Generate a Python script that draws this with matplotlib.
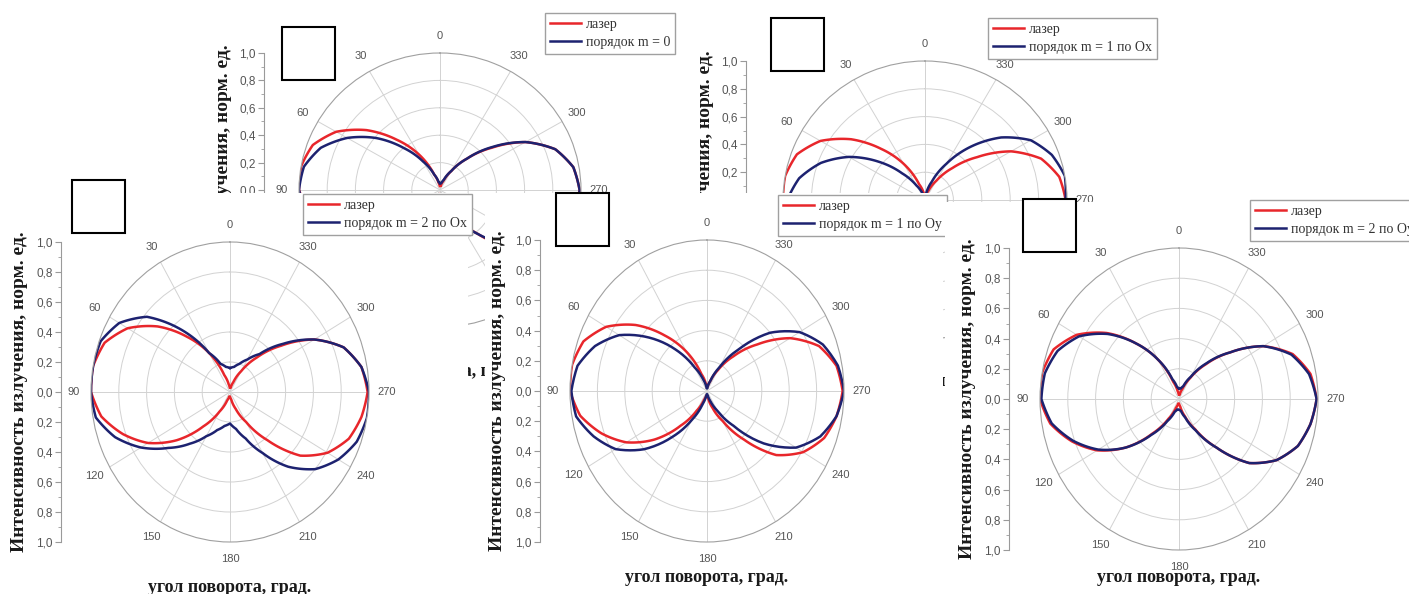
import numpy as np
import matplotlib.pyplot as plt
from matplotlib.patches import Rectangle
from matplotlib.transforms import Bbox, TransformedBbox
from matplotlib.ticker import MultipleLocator, FixedLocator, FuncFormatter

W, H = 1409, 594

# rotation angle, degrees (step 10)
angles = list(range(0, 360, 10))

# normalized intensity of the laser beam (same reference in every panel)
laser = [0.03, 0.05, 0.12, 0.30, 0.48, 0.68, 0.85, 0.96, 1.00, 1.00,
         0.94, 0.82, 0.68, 0.50, 0.30, 0.15, 0.06, 0.03,
         0.03, 0.05, 0.12, 0.23, 0.42, 0.66, 0.81, 0.91, 0.96, 0.99,
         0.96, 0.87, 0.70, 0.48, 0.30, 0.16, 0.07, 0.03]

order_m0 = [0.05, 0.06, 0.12, 0.24, 0.40, 0.59, 0.76, 0.90, 0.98, 1.00,
            0.96, 0.86, 0.72, 0.54, 0.36, 0.20, 0.09, 0.05,
            0.05, 0.06, 0.13, 0.25, 0.42, 0.62, 0.79, 0.91, 0.98, 0.99,
            0.96, 0.87, 0.70, 0.49, 0.30, 0.16, 0.08, 0.05]

order_m1_ox = [0.03, 0.03, 0.05, 0.12, 0.25, 0.43, 0.62, 0.78, 0.90, 0.97,
               0.99, 0.95, 0.85, 0.70, 0.52, 0.34, 0.18, 0.07,
               0.03, 0.03, 0.06, 0.14, 0.28, 0.46, 0.64, 0.80, 0.92, 0.99,
               1.00, 0.95, 0.86, 0.70, 0.50, 0.30, 0.14, 0.05]

order_m2_ox = [0.16, 0.17, 0.20, 0.30, 0.54, 0.78, 0.92, 0.99, 1.00, 1.00,
               0.98, 0.88, 0.74, 0.58, 0.45, 0.34, 0.27, 0.23,
               0.21, 0.25, 0.33, 0.47, 0.65, 0.80, 0.90, 0.97, 1.00, 1.00,
               0.96, 0.87, 0.70, 0.50, 0.33, 0.25, 0.20, 0.17]

order_m1_oy = [0.02, 0.03, 0.08, 0.18, 0.36, 0.55, 0.74, 0.87, 0.96, 0.99,
               0.97, 0.88, 0.77, 0.60, 0.40, 0.22, 0.09, 0.03,
               0.02, 0.03, 0.07, 0.15, 0.30, 0.54, 0.75, 0.88, 0.96, 1.00,
               0.97, 0.90, 0.78, 0.60, 0.36, 0.18, 0.07, 0.03]

order_m2_oy = [0.07, 0.08, 0.14, 0.30, 0.48, 0.67, 0.83, 0.93, 0.98, 0.99,
               0.93, 0.81, 0.67, 0.50, 0.31, 0.17, 0.09, 0.07,
               0.07, 0.08, 0.13, 0.24, 0.42, 0.66, 0.81, 0.91, 0.96, 0.99,
               0.95, 0.86, 0.70, 0.48, 0.31, 0.17, 0.09, 0.07]

labels = ["порядок m = 0", "порядок m = 1 по Ox", "порядок m = 2 по Ox",
          "порядок m = 1 по Oy", "порядок m = 2 по Oy"]

RED = "#e8262b"
BLUE = "#1d2270"
SERIF = "Liberation Serif"
SANS = "Liberation Sans"

fig = plt.figure(figsize=(W / 100, H / 100), dpi=100)


def fr(x0, y0, x1, y1):
    # pixel box (origin top-left) -> figure fraction rect
    return [x0 / W, 1 - y1 / H, (x1 - x0) / W, (y1 - y0) / H]


def clip_to(artist, x0, y0, x1, y1):
    box = Bbox.from_extents(x0 / W, 1 - y1 / H, x1 / W, 1 - y0 / H)
    artist.set_clip_box(TransformedBbox(box, fig.transFigure))
    artist.set_clip_on(True)


def closed(values):
    th = np.deg2rad(angles + [360])
    return th, list(values) + [values[0]]


def panel(cx, cy, rx, ry, series, label, axis_x, ylab_x, ylab_y, xlab_y,
          legend_xy, bg=None, upper_only=False, ylab_clip=None, xlab_clip=None):
    if bg is not None:
        back = fig.add_axes(fr(*bg))
        back.set_xticks([])
        back.set_yticks([])
        for s in back.spines.values():
            s.set_visible(False)

    # linear scale on the left: 1,0 ... 0,0 ... 1,0
    sc = fig.add_axes(fr(axis_x - 1, cy - ry, axis_x, cy + ry))
    sc.set_facecolor("none")
    sc.set_ylim(-1, 1)
    sc.set_xticks([])
    if upper_only:
        sc.yaxis.set_major_locator(FixedLocator(np.arange(0, 1.01, 0.2)))
        sc.yaxis.set_minor_locator(FixedLocator(np.arange(0.1, 1.0, 0.2)))
    else:
        sc.yaxis.set_major_locator(MultipleLocator(0.2))
        sc.yaxis.set_minor_locator(MultipleLocator(0.1))
    sc.yaxis.set_major_formatter(
        FuncFormatter(lambda v, p: f"{abs(v):.1f}".replace(".", ",")))
    for side in ("top", "right", "bottom"):
        sc.spines[side].set_visible(False)
    sc.spines["left"].set_color("#9a9a9a")
    sc.tick_params(axis="y", which="major", length=4, color="#9a9a9a",
                   labelsize=8.5, labelcolor="#555555", pad=2)
    sc.tick_params(axis="y", which="minor", length=2, color="#9a9a9a")
    for t in sc.get_yticklabels():
        t.set_family(SANS)
    ylab = sc.text(ylab_x / W, 1 - ylab_y / H, "Интенсивность излучения, норм. ед.",
                   transform=fig.transFigure, rotation=90, ha="center", va="center",
                   fontsize=14, fontweight="bold", family=SERIF, color="#1a1a1a")
    xlab = sc.text(cx / W, 1 - xlab_y / H, "угол поворота, град.",
                   transform=fig.transFigure, ha="center", va="center",
                   fontsize=13, fontweight="bold", family=SERIF, color="#1a1a1a")
    if ylab_clip:
        clip_to(ylab, *ylab_clip)
    if xlab_clip:
        clip_to(xlab, *xlab_clip)

    ax = fig.add_axes(fr(cx - rx, cy - ry, cx + rx, cy + ry), projection="polar")
    ax.set_aspect("auto")
    ax.set_theta_zero_location("N")
    ax.set_theta_direction(1)
    ax.set_ylim(0, 1)
    grid_deg = list(range(0, 360, 30))
    if upper_only:
        tlabels = [str(a) if (a <= 90 or a >= 270) else "" for a in grid_deg]
    else:
        tlabels = [str(a) for a in grid_deg]
    ax.set_thetagrids(grid_deg, tlabels, fontsize=8, color="#555555", family=SANS)
    ax.tick_params(axis="x", pad=2)
    ax.set_yticks([0.2, 0.4, 0.6, 0.8])
    ax.set_yticklabels([])
    ax.yaxis.grid(True, color="#d2d2d2", lw=0.7)
    ax.xaxis.grid(True, color="#d2d2d2", lw=0.7)
    ax.spines["polar"].set_color("#a0a0a0")
    ax.spines["polar"].set_linewidth(0.8)

    th, r = closed(laser)
    ln1, = ax.plot(th, r, color=RED, lw=1.8, label="лазер")
    th, r = closed(series)
    ln2, = ax.plot(th, r, color=BLUE, lw=1.8, label=label)
    # draw each segment along the polar grid instead of as a straight chord
    for ln in (ln1, ln2):
        ln.get_path()._interpolation_steps = 12

    ax.legend(loc="upper left", bbox_to_anchor=(legend_xy[0] / W, 1 - legend_xy[1] / H),
              bbox_transform=fig.transFigure, borderaxespad=0, fancybox=False,
              edgecolor="#a0a0a0", framealpha=1, labelcolor="#333333",
              prop={"family": SERIF, "size": 10}, handlelength=2.25,
              labelspacing=0.35, borderpad=0.37, handletextpad=0.3)
    return ax


# back row (mostly covered by the front row)
panel(440, 190, 141, 137, order_m0, labels[0], 265, 223, 205, 372, (545, 13),
      upper_only=True, ylab_clip=(0, 0, W, 193), xlab_clip=(468, 193, 485, H))
panel(925, 200, 142, 139, order_m1_ox, labels[1], 747, 705, 211, 382, (988, 18),
      upper_only=True, ylab_clip=(0, 0, W, 193), xlab_clip=(943, 193, 945, H))

# front row
panel(230, 392, 139, 150, order_m2_ox, labels[2], 62, 20, 392, 587, (303, 194),
      bg=(0, 193, 468, 594))
panel(707, 391, 137, 151, order_m1_oy, labels[3], 541, 497, 391, 578, (778, 195),
      bg=(485, 193, 943, 594))
panel(1179, 399, 139, 151, order_m2_oy, labels[4], 1010, 967, 399, 577, (1250, 200),
      bg=(945, 202, 1409, 594))

# empty marker squares
for x0, y0 in [(282, 27), (771, 18), (72, 180), (556, 193), (1023, 199)]:
    fig.patches.append(Rectangle((x0 / W, 1 - (y0 + 53) / H), 53 / W, 53 / H,
                                 transform=fig.transFigure, facecolor="white",
                                 edgecolor="black", lw=1.5, zorder=5))

fig.savefig("out.png", dpi=100)
